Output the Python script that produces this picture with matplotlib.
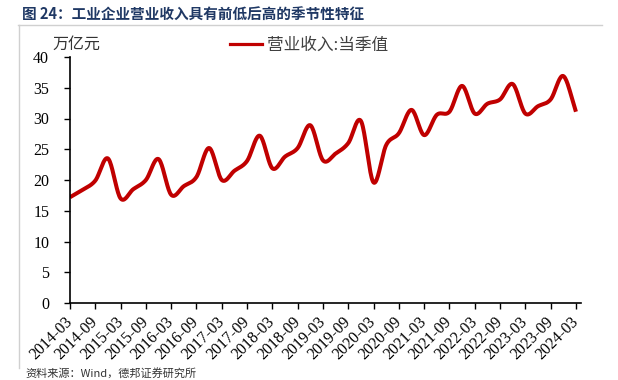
import numpy as np
import matplotlib
matplotlib.use('Agg')
import matplotlib.pyplot as plt
from matplotlib.lines import Line2D

plt.rcParams['font.family'] = ['Noto Sans CJK SC', 'DejaVu Sans']

# quarterly operating revenue of industrial enterprises, trillion yuan
quarters = ['2014-03', '2014-06', '2014-09', '2014-12',
            '2015-03', '2015-06', '2015-09', '2015-12',
            '2016-03', '2016-06', '2016-09', '2016-12',
            '2017-03', '2017-06', '2017-09', '2017-12',
            '2018-03', '2018-06', '2018-09', '2018-12',
            '2019-03', '2019-06', '2019-09', '2019-12',
            '2020-03', '2020-06', '2020-09', '2020-12',
            '2021-03', '2021-06', '2021-09', '2021-12',
            '2022-03', '2022-06', '2022-09', '2022-12',
            '2023-03', '2023-06', '2023-09', '2023-12',
            '2024-03']
revenue = [17.2, 18.4, 19.9, 23.5, 17.0, 18.5, 20.0, 23.4,
           17.6, 19.0, 20.5, 25.2, 20.0, 21.5, 23.1, 27.2,
           21.9, 23.8, 25.2, 28.9, 23.2, 24.3, 26.0, 29.6,
           19.6, 25.7, 27.6, 31.4, 27.3, 30.6, 31.1, 35.3,
           30.8, 32.4, 33.1, 35.6, 30.8, 32.0, 33.1, 36.9,
           31.1]
yticks = [0, 5, 10, 15, 20, 25, 30, 35, 40]


def catmull_rom(y, n=20):
    # smooth curve through the points (display only, like the "smoothed line" of the source)
    y = np.asarray(y, dtype=float)
    p = np.concatenate([[2 * y[0] - y[1]], y, [2 * y[-1] - y[-2]]])
    xs, ys = [], []
    t = np.linspace(0, 1, n, endpoint=False)
    for i in range(len(y) - 1):
        p0, p1, p2, p3 = p[i], p[i + 1], p[i + 2], p[i + 3]
        seg = 0.5 * ((2 * p1) + (-p0 + p2) * t + (2 * p0 - 5 * p1 + 4 * p2 - p3) * t ** 2
                     + (-p0 + 3 * p1 - 3 * p2 + p3) * t ** 3)
        xs.append(i + t)
        ys.append(seg)
    xs.append([len(y) - 1])
    ys.append([y[-1]])
    return np.concatenate(xs), np.concatenate(ys)


W, H = 618, 380
fig = plt.figure(figsize=(W / 100, H / 100), dpi=100)
ax = fig.add_axes([70 / W, 1 - 303 / H, 511 / W, 246 / H])

red = '#C00000'
xs, ys = catmull_rom(revenue)
ax.plot(xs, ys, color=red, lw=2.9, solid_capstyle='butt')

ax.set_ylim(0, 40)
ax.set_yticks(yticks)
ax.set_xlim(0, len(quarters) - 1 + 0.4)
idx = np.arange(0, len(quarters), 2)
ax.set_xticks(idx)
ax.set_xticklabels([quarters[i] for i in idx], rotation=45, ha='right', va='center',
                   rotation_mode='anchor')

for s in ['top', 'right']:
    ax.spines[s].set_visible(False)
for s in ['left', 'bottom']:
    ax.spines[s].set_linewidth(1.2)
    ax.spines[s].set_color('black')
ax.tick_params(axis='y', length=4, width=1, pad=11, labelsize=11.5,
               labelfontfamily='Liberation Serif')
ax.tick_params(axis='x', length=4, width=1, pad=8, labelsize=11.5,
               labelfontfamily='Liberation Serif')

# legend and unit label
handle = Line2D([], [], color=red, lw=2.3)
fig.legend([handle], ['营业收入:当季值'], loc='center left',
           bbox_to_anchor=(230 / W, 1 - 45 / H), frameon=False, borderpad=0,
           borderaxespad=0, handlelength=1.9, handletextpad=0.3,
           prop={'size': 12}, labelcolor='#404040')
fig.text(76 / W, 1 - 44 / H, '万亿元', ha='center', va='center', fontsize=11.5,
         color='#333333')

# title and frame
fig.text(22 / W, 1 - 15 / H, '图 24：工业企业营业收入具有前低后高的季节性特征',
         fontsize=10.5, fontweight='bold', color='#1F3864', va='center')
fig.add_artist(Line2D([18 / W, 602 / W], [1 - 25 / H] * 2, color='#d0d0d0', lw=1))
fig.add_artist(Line2D([19 / W] * 2, [1 - 25 / H, 1 - 368 / H], color='#d0d0d0', lw=1))
fig.text(25 / W, 1 - 368 / H, '资料来源：Wind，德邦证券研究所', fontsize=8,
         color='#333333', va='top')

fig.savefig('out.png', dpi=100)
